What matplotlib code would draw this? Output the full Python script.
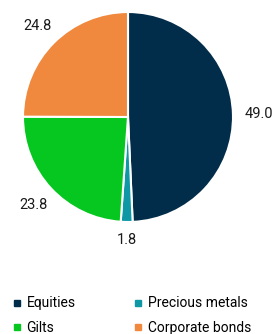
import numpy as np
import matplotlib.pyplot as plt
from matplotlib.lines import Line2D

categories = ["Equities", "Precious metals", "Gilts", "Corporate bonds"]
values = [49.0, 1.8, 23.8, 24.8]
colors = ["#022d4a", "#0e98a5", "#06c71f", "#f0893d"]

plt.rcParams["font.family"] = ["Roboto", "DejaVu Sans"]

fig = plt.figure(figsize=(2.78, 3.34), dpi=100)
fig.patch.set_facecolor("white")

# pie centre at (128, 117) px from top-left, radius ~105 px
ax = fig.add_axes([0, 74 / 334, 1, 260 / 334])
wedges, _ = ax.pie(values, colors=colors, startangle=90, counterclock=False,
                   wedgeprops=dict(edgecolor="white", linewidth=1.5))
r_px = 105
ax.set_aspect("auto")
ax.set_xlim(-128 / r_px, 150 / r_px)
ax.set_ylim(-(260 - 117) / r_px, 117 / r_px)
ax.axis("off")

for w, v in zip(wedges, values):
    mid = np.deg2rad((w.theta1 + w.theta2) / 2)
    dist = 1.17 + 0.08 * abs(np.cos(mid))
    ax.text(dist * np.cos(mid), dist * np.sin(mid), f"{v:.1f}",
            ha="center", va="center", fontsize=10.5, color="#1a1a1a")

order = [0, 2, 1, 3]
handles = [Line2D([], [], marker="s", linestyle="none", markersize=4.5,
                  color=colors[i]) for i in order]
fig.legend(handles, [categories[i] for i in order], ncol=2,
           loc="upper left", bbox_to_anchor=(0.0, 0.15), frameon=False,
           fontsize=10, handlelength=0.6, handletextpad=0.4,
           columnspacing=4.2, labelspacing=0.75,
           bbox_transform=fig.transFigure)

fig.savefig("out.png", dpi=100)
